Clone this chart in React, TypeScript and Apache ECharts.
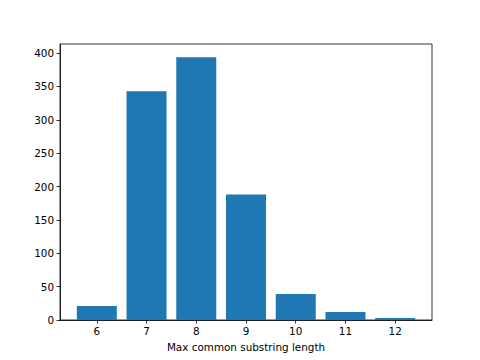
import React, { useEffect, useRef } from "react";
import * as echarts from "echarts";

const lengths = [6, 7, 8, 9, 10, 11, 12];
const counts = [21, 343, 394, 188, 39, 12, 3];
const yTicks = [0, 50, 100, 150, 200, 250, 300, 350, 400];

export default function App() {
  const ref = useRef<HTMLDivElement>(null);
  useEffect(() => {
    if (!ref.current) return;
    const chart = echarts.init(ref.current, null, { renderer: "svg" });
    const font = "DejaVu Sans";
    const fs = 10.4;
    chart.setOption({
      animation: false,
      backgroundColor: "#fff",
      grid: {
        left: 60,
        right: 48,
        top: 44,
        bottom: 40,
        show: true,
        borderColor: "#000",
        borderWidth: 0.8,
        backgroundColor: "transparent",
      },
      xAxis: {
        type: "value",
        min: 5.26,
        max: 12.74,
        name: "Max common substring length",
        nameLocation: "middle",
        nameGap: 22,
        nameTextStyle: { fontFamily: font, fontSize: fs, color: "#000" },
        splitLine: { show: false },
        axisLine: { show: true, lineStyle: { color: "#000", width: 0.8 } },
        axisTick: {
          show: true,
          customValues: lengths,
          length: 3.5,
          lineStyle: { color: "#000", width: 0.8 },
        },
        axisLabel: {
          customValues: lengths,
          fontFamily: font,
          fontSize: fs,
          color: "#000",
          margin: 6,
        },
      },
      yAxis: {
        type: "value",
        min: 0,
        max: 413.7,
        interval: 50,
        splitLine: { show: false },
        axisLine: { show: true, lineStyle: { color: "#000", width: 0.8 } },
        axisTick: {
          show: true,
          customValues: yTicks,
          length: 3.5,
          lineStyle: { color: "#000", width: 0.8 },
        },
        axisLabel: {
          customValues: yTicks,
          fontFamily: font,
          fontSize: fs,
          color: "#000",
          margin: 6,
        },
      },
      series: [
        {
          type: "bar",
          data: lengths.map((l, i) => [l, counts[i]]),
          barWidth: 40,
          itemStyle: { color: "#1f77b4" },
        },
      ],
    });
    return () => chart.dispose();
  }, []);
  return <div ref={ref} style={{ width: 480, height: 360, position: "absolute", left: 0, top: 0 }} />;
}
